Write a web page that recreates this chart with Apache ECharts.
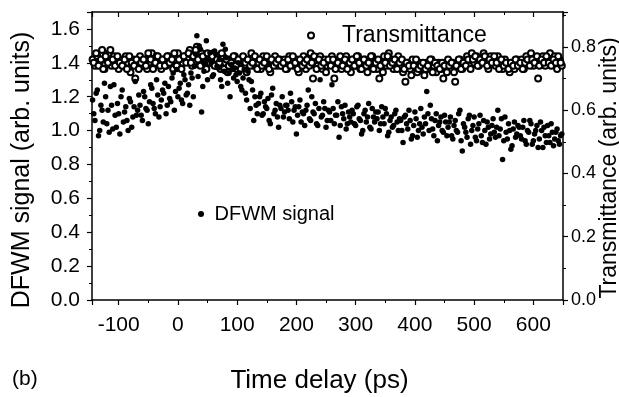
<!DOCTYPE html>
<html lang="en">
<head>
<meta charset="UTF-8">
<title>DFWM signal and transmittance</title>
<style>
    html,body{
        margin: 0;
        padding: 0;
        background: #fff;
    }
    #chart{
        width: 619px;
        height: 397px;
    }
</style>
</head>
<body>
<div id="chart"></div>
<script src="https://cdn.jsdelivr.net/npm/echarts@6/dist/echarts.min.js"></script>
<script>
    // time delay of scan points (ps), two interleaved sets
    var delay1 = [
        -144,-140,-136,-132,-128,-124,-120,-116,-112,-108,
        -104,-100,-96,-92,-88,-84,-80,-76,-72,-68,
        -64,-60,-56,-52,-48,-44,-40,-36,-32,-28,
        -24,-20,-16,-12,-8,-4,0,4,8,12,
        16,20,24,28,32,36,40,44,48,52,
        56,60,64,68,72,76,80,84,88,92,
        96,100,104,108,112,116,120,124,128,132,
        136,140,144,148,152,156,160,164,168,172,
        176,180,184,188,192,196,200,204,208,212,
        216,220,224,228,232,236,240,244,248,252,
        256,260,264,268,272,276,280,284,288,292,
        296,300,304,308,312,316,320,324,328,332,
        336,340,344,348,352,356,360,364,368,372,
        376,380,384,388,392,396,400,404,408,412,
        416,420,424,428,432,436,440,444,448,452,
        456,460,464,468,472,476,480,484,488,492,
        496,500,504,508,512,516,520,524,528,532,
        536,540,544,548,552,556,560,564,568,572,
        576,580,584,588,592,596,600,604,608,612,
        616,620,624,628,632,636,640,644,648
    ];
    var delay2 = [
        -142,-138,-134,-130,-126,-122,-118,-114,-110,-106,
        -102,-98,-94,-90,-86,-82,-78,-74,-70,-66,
        -62,-58,-54,-50,-46,-42,-38,-34,-30,-26,
        -22,-18,-14,-10,-6,-2,2,6,10,14,
        18,22,26,30,34,38,42,46,50,54,
        58,62,66,70,74,78,82,86,90,94,
        98,102,106,110,114,118,122,126,130,134,
        138,142,146,150,154,158,162,166,170,174,
        178,182,186,190,194,198,202,206,210,214,
        218,222,226,230,234,238,242,246,250,254,
        258,262,266,270,274,278,282,286,290,294,
        298,302,306,310,314,318,322,326,330,334,
        338,342,346,350,354,358,362,366,370,374,
        378,382,386,390,394,398,402,406,410,414,
        418,422,426,430,434,438,442,446,450,454,
        458,462,466,470,474,478,482,486,490,494,
        498,502,506,510,514,518,522,526,530,534,
        538,542,546,550,554,558,562,566,570,574,
        578,582,586,590,594,598,602,606,610,614,
        618,622,626,630,634,638,642,646
    ];
    // DFWM signal (left axis)
    var dfwm1 = [
        1.18,1.06,1.24,1.00,1.12,1.28,1.04,0.99,1.15,1.27,
        1.02,1.10,1.20,1.05,1.14,1.00,1.17,1.08,1.29,1.12,
        1.15,1.06,1.20,1.12,1.17,1.25,1.13,1.30,1.08,1.18,
        1.22,1.10,1.26,1.17,1.34,1.23,1.20,1.28,1.16,1.30,
        1.22,1.15,1.31,1.38,1.56,1.50,1.11,1.35,1.53,1.42,
        1.40,1.33,1.45,1.37,1.30,1.51,1.48,1.28,1.20,1.36,
        1.37,1.29,1.34,1.24,1.36,1.18,1.30,1.29,1.06,1.15,
        1.16,1.22,1.10,1.14,1.19,1.04,1.25,1.12,1.08,1.15,
        1.20,1.11,1.15,1.07,1.17,1.12,0.98,1.14,1.05,1.10,
        1.12,1.24,1.06,1.11,1.16,1.03,1.30,1.09,1.13,1.06,
        1.11,1.27,1.04,1.09,0.96,1.14,1.07,1.01,1.11,1.05,
        1.10,1.03,1.15,1.06,1.00,1.12,1.08,1.02,1.13,1.05,
        1.07,1.00,1.14,1.04,1.10,0.99,1.08,1.03,1.12,1.00,
        1.06,0.93,1.09,1.01,1.06,0.97,1.11,0.96,1.04,1.02,
        1.08,1.23,1.00,1.07,0.97,1.10,1.03,1.08,0.99,1.05,
        1.02,1.08,0.95,1.06,0.99,1.12,0.88,1.02,0.96,1.09,
        1.00,1.08,0.94,1.04,0.97,1.06,0.92,1.02,0.98,1.07,
        0.96,1.12,1.01,0.83,1.08,0.95,1.00,0.91,1.05,0.98,
        1.02,0.95,1.06,0.92,0.99,1.04,0.94,1.00,0.90,1.05,
        0.90,0.97,1.03,0.93,0.99,0.95,1.01,0.92,0.98
    ];
    var dfwm2 = [
        1.10,1.22,0.97,1.15,1.05,1.20,1.12,1.26,1.01,1.09,
        1.16,0.98,1.24,1.11,1.06,1.19,1.02,1.14,1.09,1.21,
        1.09,1.23,1.13,1.04,1.27,1.16,1.10,1.21,1.14,1.24,
        1.28,1.15,1.19,1.31,1.12,1.36,1.25,1.18,1.33,1.21,
        1.27,1.34,1.20,1.45,1.32,1.48,1.26,1.40,1.30,1.46,
        1.32,1.47,1.38,1.42,1.26,1.35,1.43,1.34,1.39,1.31,
        1.33,1.40,1.26,1.31,1.22,1.35,1.13,1.24,1.20,1.10,
        1.20,1.09,1.17,1.13,1.06,1.21,1.10,1.16,1.02,1.13,
        1.08,1.15,1.12,1.22,1.05,1.14,1.09,1.18,1.11,1.03,
        1.15,1.07,1.20,1.10,1.04,1.13,1.08,1.17,1.02,1.12,
        1.06,1.13,1.09,1.17,1.03,1.10,1.15,1.04,1.08,1.12,
        1.04,1.14,1.07,0.98,1.10,1.05,1.16,1.01,1.08,1.11,
        1.11,1.04,1.08,1.13,0.97,1.06,1.02,1.10,1.05,1.07,
        1.00,1.08,1.04,1.12,0.95,1.03,1.07,1.00,1.13,0.98,
        1.04,1.10,1.15,1.01,1.06,0.94,1.05,1.00,1.09,0.97,
        1.05,0.97,1.03,1.00,1.10,0.94,1.04,0.99,1.07,0.92,
        1.03,0.96,1.01,1.09,0.93,1.00,1.05,0.95,1.03,0.99,
        1.02,0.97,1.07,0.94,0.99,1.04,0.89,1.01,0.96,1.03,
        0.97,1.02,0.94,1.00,1.06,0.92,0.98,1.03,0.95,1.00,
        1.02,0.93,0.97,1.04,0.91,0.99,0.94,0.97
    ];
    // transmittance (right axis)
    var trans1 = [
        0.76,0.74,0.77,0.75,0.79,0.73,0.76,0.78,0.74,0.77,
        0.75,0.73,0.76,0.74,0.77,0.75,0.72,0.76,0.70,0.75,
        0.77,0.74,0.76,0.73,0.75,0.78,0.74,0.77,0.75,0.73,
        0.76,0.74,0.77,0.75,0.73,0.76,0.78,0.74,0.75,0.77,
        0.76,0.79,0.74,0.77,0.80,0.75,0.78,0.76,0.73,0.77,
        0.75,0.78,0.74,0.76,0.73,0.77,0.75,0.72,0.76,0.74,
        0.77,0.73,0.75,0.76,0.74,0.72,0.75,0.78,0.74,0.76,
        0.75,0.73,0.77,0.74,0.76,0.72,0.75,0.77,0.74,0.76,
        0.74,0.76,0.73,0.77,0.75,0.74,0.76,0.72,0.75,0.77,
        0.73,0.76,0.78,0.70,0.75,0.74,0.77,0.73,0.76,0.74,
        0.75,0.77,0.70,0.74,0.76,0.73,0.75,0.77,0.74,0.72,
        0.76,0.74,0.77,0.73,0.75,0.76,0.72,0.74,0.77,0.75,
        0.73,0.70,0.75,0.77,0.74,0.78,0.76,0.73,0.75,0.77,
        0.74,0.72,0.69,0.75,0.73,0.76,0.74,0.72,0.75,0.73,
        0.71,0.75,0.73,0.76,0.74,0.72,0.75,0.73,0.70,0.74,
        0.76,0.73,0.75,0.69,0.74,0.76,0.73,0.75,0.77,0.74,
        0.78,0.75,0.77,0.74,0.76,0.78,0.75,0.73,0.77,0.76,
        0.74,0.77,0.75,0.73,0.76,0.74,0.72,0.75,0.73,0.76,
        0.74,0.76,0.73,0.77,0.75,0.78,0.74,0.76,0.70,0.75,
        0.77,0.74,0.76,0.78,0.75,0.77,0.73,0.76,0.74
    ];
    var trans2 = [
        0.75,0.78,0.74,0.76,0.73,0.77,0.75,0.79,0.76,0.74,
        0.77,0.75,0.74,0.76,0.73,0.77,0.75,0.74,0.76,0.73,
        0.75,0.76,0.74,0.78,0.76,0.73,0.75,0.77,0.74,0.76,
        0.74,0.77,0.75,0.76,0.78,0.74,0.76,0.73,0.77,0.75,
        0.78,0.75,0.77,0.79,0.76,0.74,0.77,0.75,0.78,0.75,
        0.77,0.74,0.76,0.75,0.78,0.73,0.76,0.74,0.75,0.77,
        0.74,0.76,0.73,0.77,0.75,0.76,0.74,0.75,0.77,0.73,
        0.76,0.74,0.75,0.77,0.73,0.76,0.74,0.75,0.76,0.74,
        0.75,0.73,0.76,0.74,0.77,0.75,0.73,0.76,0.74,0.75,
        0.76,0.74,0.75,0.77,0.73,0.76,0.74,0.75,0.72,0.76,
        0.74,0.76,0.73,0.75,0.77,0.74,0.76,0.73,0.75,0.76,
        0.74,0.77,0.75,0.73,0.76,0.74,0.75,0.77,0.73,0.75,
        0.76,0.74,0.72,0.75,0.77,0.74,0.75,0.76,0.73,0.75,
        0.76,0.73,0.75,0.74,0.71,0.74,0.76,0.73,0.74,0.75,
        0.73,0.74,0.76,0.72,0.75,0.74,0.73,0.75,0.74,0.72,
        0.74,0.75,0.72,0.74,0.76,0.73,0.75,0.74,0.76,0.73,
        0.76,0.77,0.74,0.76,0.75,0.77,0.74,0.76,0.75,0.77,
        0.75,0.73,0.76,0.74,0.75,0.73,0.75,0.74,0.76,0.74,
        0.75,0.73,0.75,0.76,0.74,0.76,0.75,0.77,0.74,0.76,
        0.75,0.77,0.75,0.74,0.76,0.75,0.77,0.75
    ];

    var font = 'Liberation Sans, Arial, sans-serif';
    var black = '#000';

    function pairs(xs, ys) {
        return ys.map(function (y, i) { return [xs[i], y]; });
    }

    var tick = {inside: false, length: 5, lineStyle: {color: black, width: 1.2}};
    var minor = {show: true, splitNumber: 2, length: 3, lineStyle: {color: black, width: 1}};
    var line = {onZero: false, lineStyle: {color: black, width: 1.5}};
    var label = {fontSize: 21, color: black, fontFamily: font};
    var oneDec = function (v) { return v.toFixed(1); };

    var myChart = echarts.init(document.getElementById('chart'));
    myChart.setOption({
        animation: false,
        backgroundColor: '#fff',
        grid: {left: 92, right: 56, top: 12, bottom: 97, outerBoundsMode: 'none'},
        legend: [{
            data: ['Transmittance'],
            left: 302, top: 19,
            itemWidth: 52, itemHeight: 6,
            selectedMode: false,
            textStyle: {fontSize: 23, color: black, fontFamily: font}
        }, {
            data: ['DFWM signal'],
            left: 193, top: 199,
            itemWidth: 17, itemHeight: 6,
            selectedMode: false,
            textStyle: {fontSize: 20, color: black, fontFamily: font}
        }],
        graphic: [{
            type: 'text', left: 12, top: 369,
            style: {text: '(b)', fontSize: 21, fill: black, fontFamily: font}
        }],
        xAxis: [{
            type: 'value', position: 'bottom',
            min: -145, max: 650, splitNumber: 8,
            axisLine: line, axisTick: tick, minorTick: minor,
            splitLine: {show: false},
            axisLabel: Object.assign({margin: 15, showMinLabel: false, showMaxLabel: false}, label),
            name: 'Time delay (ps)', nameLocation: 'middle', nameGap: 68, nameMoveOverlap: false,
            nameTextStyle: {fontSize: 26, color: black, fontFamily: font, padding: [0, 16, 0, 0]}
        }, {
            type: 'value', position: 'top',
            min: -145, max: 650, splitNumber: 8,
            axisLine: line,
            axisTick: {inside: true, length: 5, lineStyle: {color: black, width: 1.2}},
            minorTick: {show: true, splitNumber: 2, length: 3, lineStyle: {color: black}},
            splitLine: {show: false},
            axisLabel: {show: false}
        }],
        yAxis: [{
            type: 'value', position: 'left',
            min: 0, max: 1.7, interval: 0.2,
            axisLine: line, axisTick: tick, minorTick: minor,
            splitLine: {show: false},
            axisLabel: Object.assign({margin: 12, showMaxLabel: false, formatter: oneDec}, label),
            name: 'DFWM signal (arb. units)', nameLocation: 'middle', nameGap: 57, nameRotate: 90,
            nameMoveOverlap: false,
            nameTextStyle: {fontSize: 25, color: black, fontFamily: font, padding: [0, 28, 0, 0]}
        }, {
            type: 'value', position: 'right',
            min: 0, max: 0.91, interval: 0.2,
            axisLine: line, axisTick: tick, minorTick: minor,
            splitLine: {show: false},
            axisLabel: {margin: 8, showMaxLabel: false, formatter: oneDec,
                fontSize: 18, color: black, fontFamily: font},
            name: 'Transmittance (arb. units)', nameLocation: 'middle', nameGap: 35, nameRotate: 90,
            nameMoveOverlap: false,
            nameTextStyle: {fontSize: 23, color: black, fontFamily: font, padding: [0, 24, 0, 0]}
        }],
        series: [{
            name: 'Transmittance',
            type: 'scatter',
            xAxisIndex: 0, yAxisIndex: 1,
            symbol: 'emptyCircle', symbolSize: 6,
            itemStyle: {color: black, borderWidth: 0.8, opacity: 1},
            data: pairs(delay1, trans1).concat(pairs(delay2, trans2))
        }, {
            name: 'DFWM signal',
            type: 'scatter',
            xAxisIndex: 0, yAxisIndex: 0,
            symbol: 'circle', symbolSize: 5.5,
            itemStyle: {color: black, opacity: 1},
            z: 3,
            data: pairs(delay1, dfwm1).concat(pairs(delay2, dfwm2))
        }]
    });
</script>
</body>
</html>
